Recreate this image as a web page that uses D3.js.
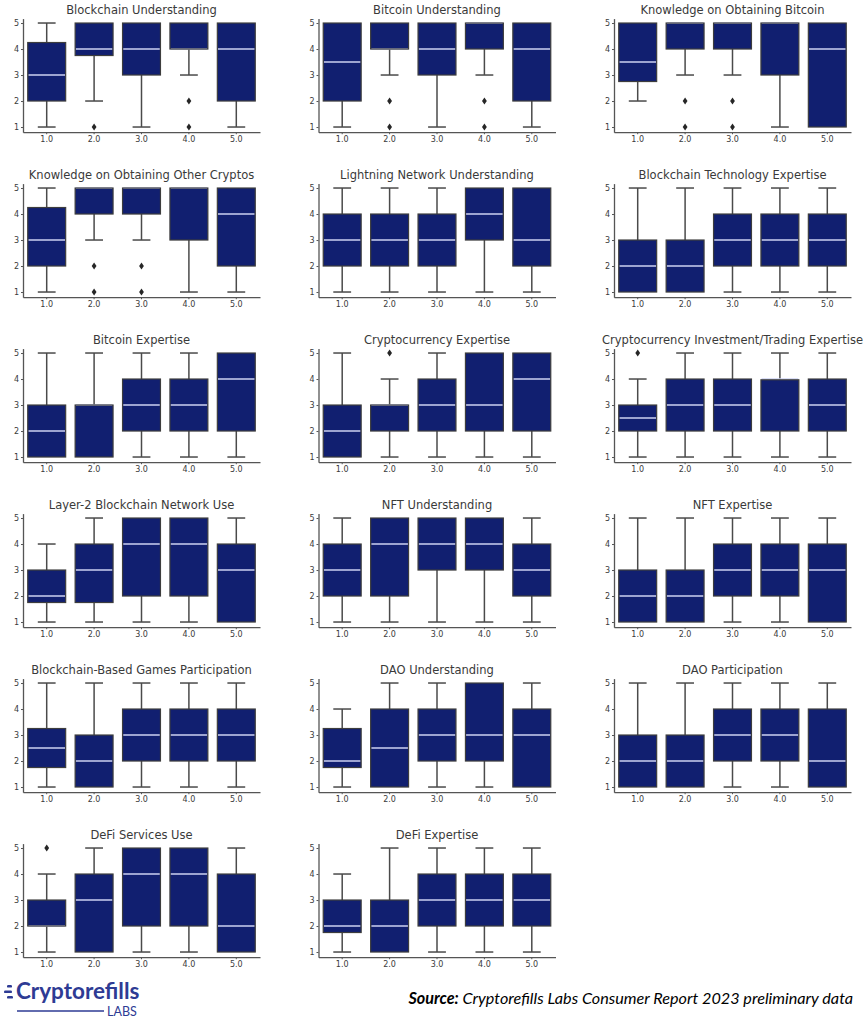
<!DOCTYPE html>
<html>
<head>
<meta charset="utf-8">
<script src="https://cdn.jsdelivr.net/npm/d3@7"></script>
<style>
  body { margin: 0; background: #fff; }
  svg { display: block; }
</style>
</head>
<body>
<div id="chart"></div>
<script>
// answer groups on the x axis, rating ticks on the y axis
var categories = ['1.0', '2.0', '3.0', '4.0', '5.0']
var yTicks = [1, 2, 3, 4, 5]

var titles = [
  'Blockchain Understanding', 'Bitcoin Understanding', 'Knowledge on Obtaining Bitcoin',
  'Knowledge on Obtaining Other Cryptos', 'Lightning Network Understanding', 'Blockchain Technology Expertise',
  'Bitcoin Expertise', 'Cryptocurrency Expertise', 'Cryptocurrency Investment/Trading Expertise',
  'Layer-2 Blockchain Network Use', 'NFT Understanding', 'NFT Expertise',
  'Blockchain-Based Games Participation', 'DAO Understanding', 'DAO Participation',
  'DeFi Services Use', 'DeFi Expertise'
]

// box stats per panel, one value per category
var lowWhisker = [
  [1, 2, 1, 3, 1], [1, 3, 1, 3, 1], [2, 3, 3, 1, 1],
  [1, 3, 3, 1, 1], [1, 1, 1, 1, 1], [1, 1, 1, 1, 1],
  [1, 1, 1, 1, 1], [1, 1, 1, 1, 1], [1, 1, 1, 1, 1],
  [1, 1, 1, 1, 1], [1, 1, 1, 1, 1], [1, 1, 1, 1, 1],
  [1, 1, 1, 1, 1], [1, 1, 1, 1, 1], [1, 1, 1, 1, 1],
  [1, 1, 1, 1, 1], [1, 1, 1, 1, 1]
]
var q1 = [
  [2, 3.75, 3, 4, 2], [2, 4, 3, 4, 2], [2.75, 4, 4, 3, 1],
  [2, 4, 4, 3, 2], [2, 2, 2, 3, 2], [1, 1, 2, 2, 2],
  [1, 1, 2, 2, 2], [1, 2, 2, 2, 2], [2, 2, 2, 2, 2],
  [1.75, 1.75, 2, 2, 1], [2, 2, 3, 3, 2], [1, 1, 2, 2, 1],
  [1.75, 1, 2, 2, 2], [1.75, 1, 2, 2, 1], [1, 1, 2, 2, 1],
  [2, 1, 2, 2, 1], [1.75, 1, 2, 2, 2]
]
var median = [
  [3, 4, 4, 4, 4], [3.5, 4, 4, 5, 4], [3.5, 5, 5, 5, 4],
  [3, 5, 5, 5, 4], [3, 3, 3, 4, 3], [2, 2, 3, 3, 3],
  [2, 3, 3, 3, 4], [2, 3, 3, 3, 4], [2.5, 3, 3, 4, 3],
  [2, 3, 4, 4, 3], [3, 4, 4, 4, 3], [2, 2, 3, 3, 3],
  [2.5, 2, 3, 3, 3], [2, 2.5, 3, 3, 3], [2, 2, 3, 3, 2],
  [2, 3, 4, 4, 2], [2, 2, 3, 3, 3]
]
var q3 = [
  [4.25, 5, 5, 5, 5], [5, 5, 5, 5, 5], [5, 5, 5, 5, 5],
  [4.25, 5, 5, 5, 5], [4, 4, 4, 5, 5], [3, 3, 4, 4, 4],
  [3, 3, 4, 4, 5], [3, 3, 4, 5, 5], [3, 4, 4, 3.97, 4],
  [3, 4, 5, 5, 4], [4, 5, 5, 5, 4], [3, 3, 4, 4, 4],
  [3.25, 3, 4, 4, 4], [3.25, 4, 4, 5, 4], [3, 3, 4, 4, 4],
  [3, 4, 5, 5, 4], [3, 3, 4, 4, 4]
]
var highWhisker = [
  [5, 5, 5, 5, 5], [5, 5, 5, 5, 5], [5, 5, 5, 5, 5],
  [5, 5, 5, 5, 5], [5, 5, 5, 5, 5], [5, 5, 5, 5, 5],
  [5, 5, 5, 5, 5], [5, 4, 5, 5, 5], [4, 5, 5, 5, 5],
  [4, 5, 5, 5, 5], [5, 5, 5, 5, 5], [5, 5, 5, 5, 5],
  [5, 5, 5, 5, 5], [4, 5, 5, 5, 5], [5, 5, 5, 5, 5],
  [4, 5, 5, 5, 5], [4, 5, 5, 5, 5]
]
var outliers = [
  [[], [1], [], [2, 1], []], [[], [2, 1], [], [2, 1], []], [[], [2, 1], [2, 1], [], []],
  [[], [2, 1], [2, 1], [], []], [[], [], [], [], []], [[], [], [], [], []],
  [[], [], [], [], []], [[], [5], [], [], []], [[5], [], [], [], []],
  [[], [], [], [], []], [[], [], [], [], []], [[], [], [], [], []],
  [[], [], [], [], []], [[], [], [], [], []], [[], [], [], [], []],
  [[5], [], [], [], []], [[], [], [], [], []]
]

var W = 867, H = 1024
var panelW = 237
var unit = 26
var boxFill = '#111f70', edge = '#3d3d3d', whiskerColor = '#4a4a4a', medianColor = '#cdd2f2'
var textColor = '#3a3a3a'

var svg = d3.select('#chart').append('svg')
  .attr('width', W).attr('height', H)

var x = d3.scaleBand().domain(categories).range([0, panelW]).padding(0)
var y = d3.scaleLinear().domain([0.8, 5.17]).range([4.37 * unit, 0])
var boxW = x.bandwidth() * 0.8
var capW = boxW * 0.47

titles.forEach(function(title, i) {
  var col = i % 3, row = Math.floor(i / 3)
  var g = svg.append('g')
    .attr('transform', `translate(${23 + col * 295.5},${18.6 + row * 165})`)

  g.append('text')
    .text(title)
    .attr('x', panelW / 2)
    .attr('y', -5)
    .attr('text-anchor', 'middle')
    .attr('font-family', 'DejaVu Sans')
    .attr('font-size', 11.5)
    .attr('fill', textColor)

  var boxes = g.selectAll('g.box')
    .data(categories.map(function(c, j) {
      return { cat: c, lo: lowWhisker[i][j], q1: q1[i][j], med: median[i][j], q3: q3[i][j], hi: highWhisker[i][j], out: outliers[i][j] }
    }))
    .enter().append('g')
    .attr('class', 'box')
    .attr('transform', d => `translate(${x(d.cat) + x.bandwidth() / 2},0)`)

  // whiskers and caps
  boxes.filter(d => d.lo < d.q1).each(function(d) {
    var b = d3.select(this)
    b.append('line').attr('x1', 0).attr('x2', 0).attr('y1', y(d.q1)).attr('y2', y(d.lo))
      .attr('stroke', whiskerColor).attr('stroke-width', 1.5)
    b.append('line').attr('x1', -capW / 2).attr('x2', capW / 2).attr('y1', y(d.lo)).attr('y2', y(d.lo))
      .attr('stroke', whiskerColor).attr('stroke-width', 1.5)
  })
  boxes.filter(d => d.hi > d.q3).each(function(d) {
    var b = d3.select(this)
    b.append('line').attr('x1', 0).attr('x2', 0).attr('y1', y(d.q3)).attr('y2', y(d.hi))
      .attr('stroke', whiskerColor).attr('stroke-width', 1.5)
    b.append('line').attr('x1', -capW / 2).attr('x2', capW / 2).attr('y1', y(d.hi)).attr('y2', y(d.hi))
      .attr('stroke', whiskerColor).attr('stroke-width', 1.5)
  })

  // fill, then median, then outline so medians sitting on an edge stay mostly hidden
  boxes.append('rect')
    .attr('x', -boxW / 2)
    .attr('width', boxW)
    .attr('y', d => y(d.q3))
    .attr('height', d => y(d.q1) - y(d.q3))
    .attr('fill', boxFill)

  boxes.append('line')
    .attr('x1', -boxW / 2 + 0.6).attr('x2', boxW / 2 - 0.6)
    .attr('y1', d => y(d.med)).attr('y2', d => y(d.med))
    .attr('stroke', medianColor)
    .attr('stroke-width', 1.3)

  boxes.append('rect')
    .attr('x', -boxW / 2)
    .attr('width', boxW)
    .attr('y', d => y(d.q3))
    .attr('height', d => y(d.q1) - y(d.q3))
    .attr('fill', 'none')
    .attr('stroke', edge)
    .attr('stroke-width', 1.2)

  boxes.selectAll('path.flier')
    .data(d => d.out)
    .enter().append('path')
    .attr('class', 'flier')
    .attr('d', v => `M0,${y(v) - 3.4}L2.4,${y(v)}L0,${y(v) + 3.4}L-2.4,${y(v)}Z`)
    .attr('fill', '#262626')

  // axes
  var yAxis = g.append('g')
    .call(d3.axisLeft(y).tickValues(yTicks).tickFormat(d3.format('d')).tickSize(2).tickPadding(2).tickSizeOuter(0))
  var xAxis = g.append('g')
    .attr('transform', `translate(0,${y(0.8)})`)
    .call(d3.axisBottom(x).tickSize(2).tickPadding(2).tickSizeOuter(0))

  ;[yAxis, xAxis].forEach(function(a) {
    a.select('.domain').attr('stroke', '#555').attr('stroke-width', 1.3)
    a.selectAll('.tick line').attr('stroke', '#555')
    a.selectAll('.tick text')
      .attr('font-family', 'DejaVu Sans')
      .attr('font-size', 8)
      .attr('fill', textColor)
  })
})

// logo
var logoColor = '#2e3b94'
var logo = svg.append('g')
logo.append('rect').attr('x', 7).attr('y', 985).attr('width', 5).attr('height', 2.6).attr('rx', 1.2).attr('fill', logoColor)
logo.append('rect').attr('x', 4).attr('y', 990.5).attr('width', 8).attr('height', 2.6).attr('rx', 1.2).attr('fill', logoColor)
logo.append('rect').attr('x', 7).attr('y', 996).attr('width', 6).attr('height', 2.6).attr('rx', 1.2).attr('fill', logoColor)
logo.append('text')
  .text('Cryptorefills')
  .attr('x', 16).attr('y', 999)
  .attr('font-family', 'Lato')
  .attr('font-weight', 'bold')
  .attr('font-size', 22.5)
  .attr('fill', logoColor)
logo.append('line')
  .attr('x1', 17).attr('x2', 104).attr('y1', 1011).attr('y2', 1011)
  .attr('stroke', logoColor).attr('stroke-width', 1.4)
logo.append('text')
  .text('LABS')
  .attr('x', 107).attr('y', 1016)
  .attr('font-family', 'Lato')
  .attr('font-size', 12.5)
  .attr('fill', logoColor)

// source note
var src = svg.append('text')
  .attr('x', 853).attr('y', 1004)
  .attr('text-anchor', 'end')
  .attr('font-family', 'Lato')
  .attr('font-style', 'italic')
  .attr('font-size', 16.2)
  .attr('fill', '#000')
src.append('tspan').attr('font-weight', 'bold').text('Source:')
src.append('tspan').text(' Cryptorefills Labs Consumer Report 2023 preliminary data')
</script>
</body>
</html>
